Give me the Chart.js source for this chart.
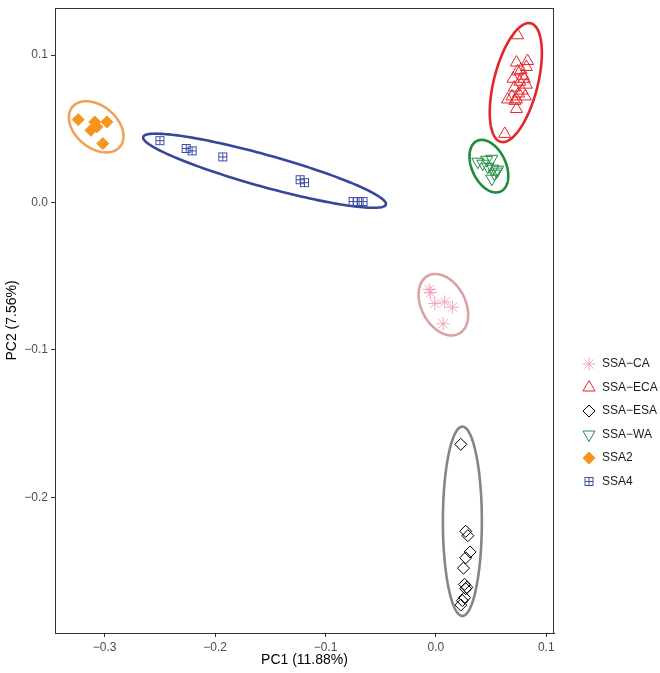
<!DOCTYPE html>
<html>
<head>
<meta charset="utf-8">
<script src="https://cdn.jsdelivr.net/npm/chart.js@4.4.1/dist/chart.umd.min.js"></script>
<style>
html, body { margin: 0; padding: 0; background: #fff; }
#wrap { width: 660px; height: 673px; position: relative; }
</style>
</head>
<body>
<div id="wrap"><canvas id="pcaChart" width="660" height="673"></canvas></div>
<script>
// groups, in legend order
var groups = ["SSA\u2212CA", "SSA\u2212ECA", "SSA\u2212ESA", "SSA\u2212WA", "SSA2", "SSA4"];

// PC1 / PC2 scores
var caX = [-0.006, -0.005, -0.001, 0.008, 0.015, 0.0066];
var caY = [-0.059, -0.061, -0.0685, -0.0674, -0.071, -0.0822];

var ecaX = [0.074, 0.0624, 0.073, 0.083, 0.082, 0.074, 0.079, 0.070, 0.076, 0.082, 0.071, 0.078, 0.069, 0.073, 0.081, 0.077, 0.080, 0.075, 0.073, 0.065, 0.0715];
var ecaY = [0.1135, 0.0466, 0.095, 0.096, 0.092, 0.089, 0.086, 0.084, 0.082, 0.080, 0.078, 0.076, 0.072, 0.070, 0.072, 0.090, 0.084, 0.074, 0.0635, 0.070, 0.069];

var esaX = [0.0226, 0.027, 0.029, 0.031, 0.027, 0.025, 0.026, 0.028, 0.027, 0.026, 0.024, 0.0226];
var esaY = [-0.164, -0.223, -0.226, -0.237, -0.241, -0.248, -0.259, -0.261, -0.262, -0.268, -0.270, -0.273];

var waX = [0.038, 0.0425, 0.0507, 0.046, 0.047, 0.0516, 0.055, 0.0507, 0.053, 0.056];
var waY = [0.0277, 0.0264, 0.0297, 0.029, 0.0243, 0.023, 0.021, 0.0162, 0.0196, 0.0223];

var ssa2X = [-0.324, -0.309, -0.298, -0.3125, -0.307, -0.3017];
var ssa2Y = [0.0563, 0.0547, 0.0547, 0.049, 0.0514, 0.040];

var ssa4X = [-0.250, -0.2262, -0.2208, -0.193, -0.123, -0.119, -0.075, -0.071, -0.066];
var ssa4Y = [0.042, 0.0367, 0.0351, 0.031, 0.0155, 0.0135, 0.0007, 0.0007, 0.0007];

// 95% ellipses: centre and two conjugate semi-axes, in PC units
var ellCx = [0.0068, 0.0724, 0.024, 0.048, -0.3077, -0.1552];
var ellCy = [-0.0693, 0.0814, -0.2162, 0.0247, 0.0514, 0.0216];
var ellAx = [0.01403, 0.01357, 0, 0.01068, 0.0215, 0.1099];
var ellAy = [-0.01966, 0.0402, -0.0642, -0.01716, -0.0135, -0.0229];
var ellBx = [0.01756, 0.0193, 0.01765, 0.01394, -0.0122, -0.0039];
var ellBy = [0.00696, -0.00365, 0, 0.00486, -0.0109, -0.0104];

var xTicks = [-0.3, -0.2, -0.1, 0.0, 0.1];
var yTicks = [-0.2, -0.1, 0.0, 0.1];

var pointColors = ["#f5a3bd", "#e3262b", "#000000", "#238b45", "#f7941d", "#3f4ea0"];
var ellipseColors = ["#d9a3a3", "#e3262b", "#858585", "#1e8a3c", "#f2a257", "#35479a"];

var FONT = "'Liberation Sans', Arial, Helvetica, sans-serif";

// square with a cross (ggplot shape 12)
function squarePlus(color) {
    var c = document.createElement("canvas");
    c.width = 11;
    c.height = 11;
    var g = c.getContext("2d");
    g.strokeStyle = color;
    g.lineWidth = 1;
    g.strokeRect(1.5, 1.5, 8, 8);
    g.beginPath();
    g.moveTo(5.5, 1.5); g.lineTo(5.5, 9.5);
    g.moveTo(1.5, 5.5); g.lineTo(9.5, 5.5);
    g.stroke();
    return c;
}

function pairs(xs, ys) {
    var out = [];
    for (var i = 0; i < xs.length; i++) out.push({ x: xs[i], y: ys[i] });
    return out;
}

function fmt(v) {
    return v.toFixed(1).replace("-", "\u2212");
}

var styles = [
    { pointStyle: "star", radius: 6.5, rotation: 0, fill: "rgba(0,0,0,0)" },
    { pointStyle: "triangle", radius: 7, rotation: 0, fill: "rgba(0,0,0,0)" },
    { pointStyle: "rectRot", radius: 6, rotation: 0, fill: "rgba(0,0,0,0)" },
    { pointStyle: "triangle", radius: 7, rotation: 180, fill: "rgba(0,0,0,0)" },
    { pointStyle: "rectRot", radius: 6, rotation: 0, fill: pointColors[4] },
    { pointStyle: squarePlus(pointColors[5]), radius: 5, rotation: 0, fill: "rgba(0,0,0,0)" }
];

var seriesData = [
    pairs(caX, caY), pairs(ecaX, ecaY), pairs(esaX, esaY),
    pairs(waX, waY), pairs(ssa2X, ssa2Y), pairs(ssa4X, ssa4Y)
];

var datasets = groups.map(function (name, i) {
    return {
        label: name,
        data: seriesData[i],
        pointStyle: styles[i].pointStyle,
        pointRadius: styles[i].radius,
        pointRotation: styles[i].rotation,
        pointBorderColor: pointColors[i],
        pointBackgroundColor: styles[i].fill,
        pointBorderWidth: 1
    };
});

var ellipsePlugin = {
    id: "ellipses",
    beforeDatasetsDraw: function (chart) {
        var ctx = chart.ctx, xs = chart.scales.x, ys = chart.scales.y;
        ctx.save();
        ctx.lineWidth = 2.6;
        for (var i = 0; i < ellCx.length; i++) {
            ctx.strokeStyle = ellipseColors[i];
            ctx.beginPath();
            for (var k = 0; k <= 180; k++) {
                var t = 2 * Math.PI * k / 180;
                var vx = ellCx[i] + ellAx[i] * Math.cos(t) + ellBx[i] * Math.sin(t);
                var vy = ellCy[i] + ellAy[i] * Math.cos(t) + ellBy[i] * Math.sin(t);
                var px = xs.getPixelForValue(vx), py = ys.getPixelForValue(vy);
                if (k === 0) ctx.moveTo(px, py); else ctx.lineTo(px, py);
            }
            ctx.closePath();
            ctx.stroke();
        }
        ctx.restore();
    },
    afterDraw: function (chart) {
        var ctx = chart.ctx, a = chart.chartArea;
        ctx.save();
        // panel border
        ctx.strokeStyle = "#333";
        ctx.lineWidth = 1;
        ctx.strokeRect(a.left + 0.5, a.top + 0.5, a.right - a.left - 1, a.bottom - a.top);

        // legend
        ctx.font = "12px " + FONT;
        ctx.textBaseline = "middle";
        for (var i = 0; i < groups.length; i++) {
            var y = 364 + 23.5 * i;
            ctx.strokeStyle = pointColors[i];
            ctx.fillStyle = styles[i].fill;
            ctx.lineWidth = 1;
            Chart.helpers.drawPoint(ctx, {
                pointStyle: styles[i].pointStyle,
                radius: styles[i].radius,
                rotation: styles[i].rotation,
                borderWidth: 1
            }, 589, y);
            ctx.fillStyle = "#1a1a1a";
            ctx.fillText(groups[i], 602, y);
        }
        ctx.restore();
    }
};

var ctx = document.getElementById("pcaChart").getContext("2d");
var pcaChart = new Chart(ctx, {
    type: "scatter",
    data: { datasets: datasets },
    plugins: [ellipsePlugin],
    options: {
        responsive: false,
        animation: false,
        events: [],
        layout: { padding: { top: 5, right: 106, left: 0, bottom: 0 } },
        plugins: {
            legend: { display: false },
            tooltip: { enabled: false }
        },
        scales: {
            x: {
                type: "linear",
                min: -0.345,
                max: 0.107,
                afterBuildTicks: function (s) { s.ticks = xTicks.map(function (v) { return { value: v }; }); },
                afterFit: function (s) { s.height = 40; s.paddingLeft = 0; s.paddingRight = 0; },
                grid: { drawOnChartArea: false, drawTicks: true, tickLength: 4, color: "#333" },
                border: { display: true, color: "#333", width: 1 },
                ticks: {
                    padding: 3,
                    color: "#4d4d4d",
                    font: { family: FONT, size: 12 },
                    maxRotation: 0,
                    callback: function (v) { return fmt(v); }
                },
                title: {
                    display: true,
                    text: "PC1 (11.88%)",
                    color: "#000",
                    font: { family: FONT, size: 14 },
                    padding: { top: 0, bottom: 4 }
                }
            },
            y: {
                type: "linear",
                min: -0.292,
                max: 0.132,
                afterBuildTicks: function (s) { s.ticks = yTicks.map(function (v) { return { value: v }; }); },
                afterFit: function (s) { s.width = 55; s.paddingTop = 0; s.paddingBottom = 0; },
                grid: { drawOnChartArea: false, drawTicks: true, tickLength: 4, color: "#333" },
                border: { display: true, color: "#333", width: 1 },
                ticks: {
                    padding: 3,
                    color: "#4d4d4d",
                    font: { family: FONT, size: 12 },
                    callback: function (v) { return fmt(v); }
                },
                title: {
                    display: true,
                    text: "PC2 (7.56%)",
                    color: "#000",
                    font: { family: FONT, size: 14 },
                    padding: { top: 4, bottom: 0 }
                }
            }
        }
    }
});
</script>
</body>
</html>
